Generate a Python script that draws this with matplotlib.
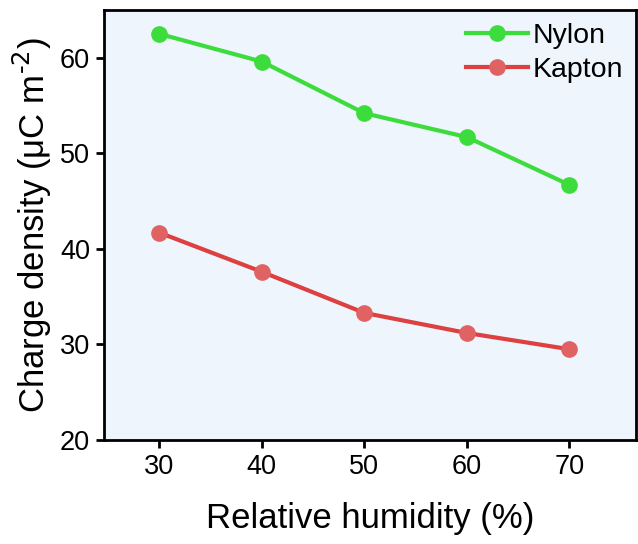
import matplotlib
matplotlib.use('Agg')
import matplotlib.pyplot as plt

plt.rcParams['font.family'] = ['Liberation Sans', 'DejaVu Sans']

humidity = [30, 40, 50, 60, 70]
nylon = [62.5, 59.6, 54.2, 51.7, 46.7]
kapton = [41.7, 37.6, 33.3, 31.2, 29.5]

fig = plt.figure(figsize=(6.38, 5.44), dpi=100)
ax = fig.add_axes([104/638, 1 - 440/544, 532/638, 430/544])
ax.set_facecolor('#EEF5FC')

ax.plot(humidity, nylon, '-o', color='#3DDC3D', lw=3, ms=11, label='Nylon')
ax.plot(humidity, kapton, '-o', color='#DC4040', mfc='#E06262', mec='#E06262', lw=3, ms=11, label='Kapton')

ax.set_xlim(24.6, 76.5)
ax.set_ylim(20, 65)
ax.set_xticks(humidity)
ax.set_yticks([20, 30, 40, 50, 60])
ax.tick_params(direction='out', length=6, width=2, labelsize=19.5, pad=4)
for s in ax.spines.values():
    s.set_linewidth(2)

ax.set_xlabel('Relative humidity (%)', fontsize=25, labelpad=16)
ax.set_ylabel(r'Charge density (μC m$^{\mathregular{\text{-2}}}$)', fontsize=25, labelpad=4)

ax.legend(loc='upper right', frameon=False, fontsize=20.5, handlelength=2.2,
          handletextpad=0.15, borderaxespad=0.05, labelspacing=0.3)

fig.savefig('out.png', dpi=100)
